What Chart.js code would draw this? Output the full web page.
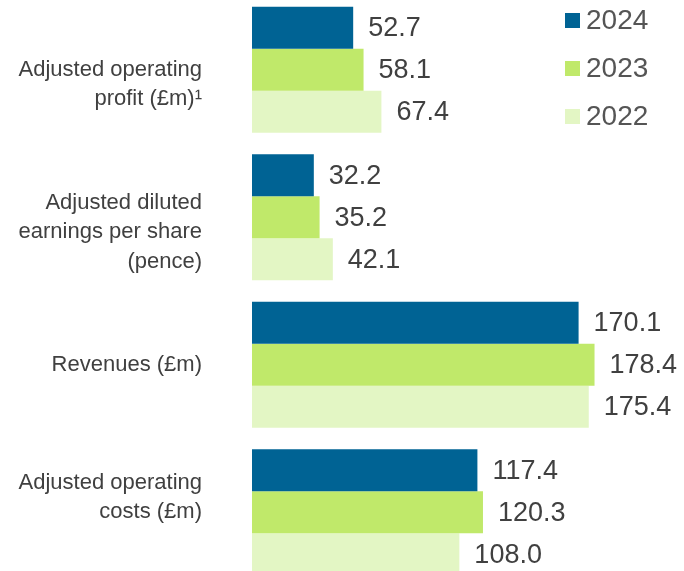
<!DOCTYPE html>
<html>
<head>
<meta charset="utf-8">
<script src="https://cdn.jsdelivr.net/npm/chart.js@4"></script>
<style>
  html, body { margin: 0; padding: 0; background: #fff; overflow: hidden; }
  #wrap { position: absolute; left: 0; top: -4px; width: 684px; height: 590px; }
</style>
</head>
<body>
<div id="wrap"><canvas id="kpiChart"></canvas></div>
<script>
const categories = [
  ["", "Adjusted operating", "profit (£m)\u00B9"],
  ["", "Adjusted diluted", "earnings per share", "(pence)"],
  "Revenues (£m)",
  ["Adjusted operating", "costs (£m)", ""]
];
const years = ["2024", "2023", "2022"];
const values2024 = [52.7, 32.2, 170.1, 117.4];
const values2023 = [58.1, 35.2, 178.4, 120.3];
const values2022 = [67.4, 42.1, 175.4, 108.0];
const colors = ["#006394", "#c0e96a", "#e3f6c4"];

const textColor = "#404040";
const fontFamily = "'Liberation Sans', Arial, sans-serif";

// value labels to the right of each bar
const valueLabels = {
  id: "valueLabels",
  afterDatasetsDraw(chart) {
    const ctx = chart.ctx;
    ctx.save();
    ctx.font = "27px " + fontFamily;
    ctx.fillStyle = textColor;
    ctx.textAlign = "left";
    ctx.textBaseline = "middle";
    chart.data.datasets.forEach((ds, i) => {
      chart.getDatasetMeta(i).data.forEach((bar, j) => {
        ctx.fillText(ds.data[j].toFixed(1), bar.x + 15, bar.y + 1);
      });
    });
    ctx.restore();
  }
};

// legend in the top right corner
const cornerLegend = {
  id: "cornerLegend",
  afterDraw(chart) {
    const ctx = chart.ctx;
    ctx.save();
    ctx.font = "28px " + fontFamily;
    ctx.textBaseline = "middle";
    chart.data.datasets.forEach((ds, i) => {
      const y = 24 + i * 48;
      ctx.fillStyle = ds.backgroundColor;
      ctx.fillRect(565, y - 7, 15, 15);
      ctx.fillStyle = "#555555";
      ctx.fillText(ds.label, 586, y + 1);
    });
    ctx.restore();
  }
};

const ctx = document.getElementById("kpiChart").getContext("2d");

new Chart(ctx, {
  type: "bar",
  data: {
    labels: categories,
    datasets: [
      { label: years[0], data: values2024, backgroundColor: colors[0] },
      { label: years[1], data: values2023, backgroundColor: colors[1] },
      { label: years[2], data: values2022, backgroundColor: colors[2] }
    ]
  },
  options: {
    indexAxis: "y",
    responsive: true,
    maintainAspectRatio: false,
    animation: false,
    layout: { padding: 0 },
    datasets: {
      bar: { categoryPercentage: 0.854, barPercentage: 1, borderWidth: 0 }
    },
    plugins: {
      legend: { display: false },
      tooltip: { enabled: false }
    },
    scales: {
      x: {
        display: false,
        min: 0,
        max: 225
      },
      y: {
        afterFit(scale) {
          scale.width = 252;
          scale.paddingTop = 0;
          scale.paddingBottom = 0;
        },
        grid: { display: false, drawTicks: false },
        border: { display: false },
        ticks: {
          padding: 50,
          color: textColor,
          font: { family: fontFamily, size: 22, lineHeight: 1.34 }
        }
      }
    }
  },
  plugins: [valueLabels, cornerLegend]
});
</script>
</body>
</html>
